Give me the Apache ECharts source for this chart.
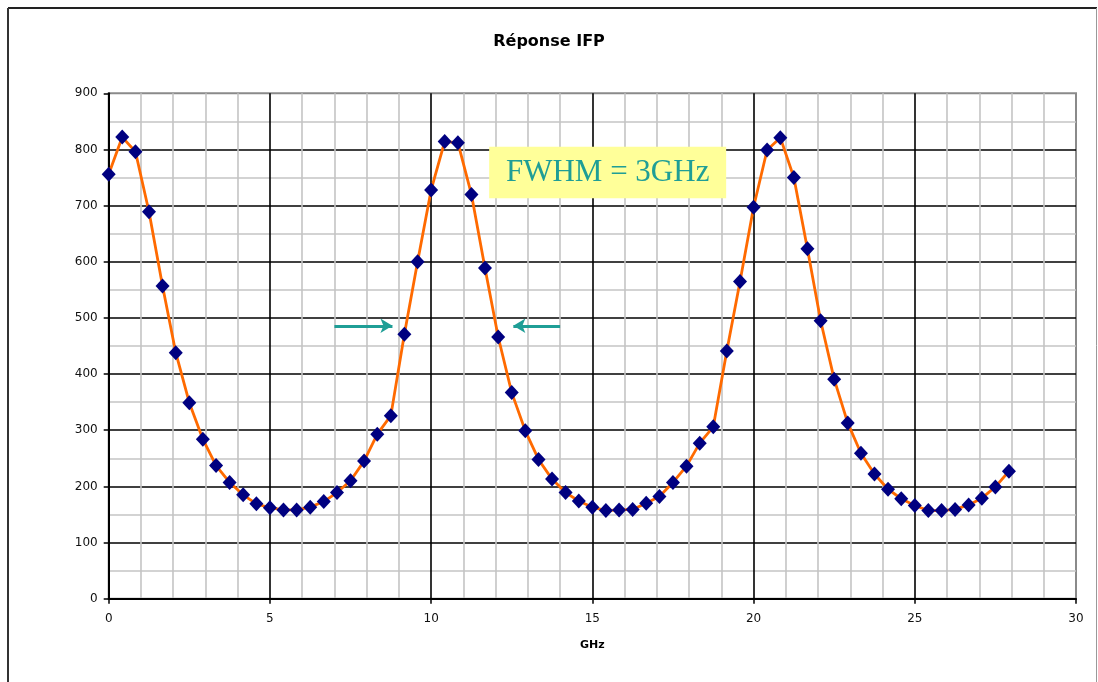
<!DOCTYPE html>
<html>
<head>
<meta charset="utf-8">
<title>Réponse IFP</title>
<script src="https://cdn.jsdelivr.net/npm/echarts@6/dist/echarts.min.js"></script>
<style>
  html, body { margin: 0; padding: 0; background: #fff; }
  #chart { width: 1098px; height: 682px; }
</style>
</head>
<body>
<div id="chart"></div>
<script>
// Frequency of each measurement (GHz)
const freqGHz = [
  0, 0.42, 0.83, 1.25, 1.67, 2.08, 2.5, 2.92, 3.33, 3.75, 4.17, 4.58,
  5, 5.42, 5.83, 6.25, 6.67, 7.08, 7.5, 7.92, 8.33, 8.75, 9.17, 9.58,
  10, 10.42, 10.83, 11.25, 11.67, 12.08, 12.5, 12.92, 13.33, 13.75, 14.17, 14.58,
  15, 15.42, 15.83, 16.25, 16.67, 17.08, 17.5, 17.92, 18.33, 18.75, 19.17, 19.58,
  20, 20.42, 20.83, 21.25, 21.67, 22.08, 22.5, 22.92, 23.33, 23.75, 24.17, 24.58,
  25, 25.42, 25.83, 26.25, 26.67, 27.08, 27.5, 27.92
];
// Interferometer response at each frequency
const response = [
  756, 822, 796, 689, 557, 438, 349, 284, 237, 207, 185, 169,
  162, 158, 158, 163, 173, 189, 210, 245, 293, 326, 471, 600,
  728, 814, 812, 720, 589, 466, 367, 299, 248, 213, 189, 174,
  163, 157, 158, 159, 170, 182, 207, 236, 277, 306, 441, 565,
  697, 799, 821, 750, 623, 495, 391, 313, 259, 222, 195, 178,
  166, 157, 157, 159, 167, 179, 199, 227
];
// Half-maximum level and the two frequencies marked by the arrows
const halfMax = 486;
const arrowLeft = [7.0, 8.8];
const arrowRight = [14.0, 12.55];
// Annotation box extent (GHz, response)
const noteBoxX = [11.8, 19.15];
const noteBoxY = [713, 805];
const noteText = 'FWHM = 3GHz';

const points = freqGHz.map((f, i) => [f, response[i]]);
const teal = '#1f9e96';

const chart = echarts.init(document.getElementById('chart'));
chart.setOption({
  animation: false,
  backgroundColor: '#ffffff',
  title: {
    text: 'Réponse IFP',
    left: 'center',
    top: 29,
    textStyle: { fontFamily: 'DejaVu Sans', fontSize: 16, fontWeight: 'bold', color: '#000' }
  },
  graphic: [
    { type: 'line', shape: { x1: 8, y1: 8, x2: 1097, y2: 8 }, style: { stroke: '#222', lineWidth: 2 } },
    { type: 'line', shape: { x1: 8, y1: 8, x2: 8, y2: 690 }, style: { stroke: '#333', lineWidth: 2 } },
    { type: 'line', shape: { x1: 1096.5, y1: 8, x2: 1096.5, y2: 690 }, style: { stroke: '#999', lineWidth: 1 } }
  ],
  grid: {
    left: 108.7, right: 22, top: 93.3, bottom: 83.3,
    show: true, borderColor: '#8a8a8a', borderWidth: 2
  },
  xAxis: {
    type: 'value', min: 0, max: 30, interval: 5,
    name: 'GHz', nameLocation: 'middle', nameGap: 41,
    nameTextStyle: { fontFamily: 'DejaVu Sans', fontSize: 11, fontWeight: 'bold', color: '#000' },
    axisLine: { show: true, onZero: false, lineStyle: { color: '#000', width: 2 } },
    axisTick: { show: true, length: 5, lineStyle: { color: '#000', width: 1.5 } },
    axisLabel: { fontFamily: 'DejaVu Sans', fontSize: 12, color: '#111', margin: 14 },
    splitLine: { show: true, showMinLine: false, showMaxLine: false, lineStyle: { color: '#000', width: 1.6 } },
    minorTick: { show: false, splitNumber: 5 },
    minorSplitLine: { show: true, lineStyle: { color: '#c4c4c4', width: 1.6 } }
  },
  yAxis: {
    type: 'value', min: 0, max: 900, interval: 100,
    axisLine: { show: true, onZero: false, lineStyle: { color: '#000', width: 2 } },
    axisTick: { show: true, length: 5, lineStyle: { color: '#000', width: 1.5 } },
    axisLabel: { fontFamily: 'DejaVu Sans', fontSize: 12, color: '#111', margin: 11 },
    splitLine: { show: true, showMinLine: false, showMaxLine: false, lineStyle: { color: '#000', width: 1.6 } },
    minorTick: { show: false, splitNumber: 2 },
    minorSplitLine: { show: true, lineStyle: { color: '#c4c4c4', width: 1.6 } }
  },
  series: [{
    type: 'line',
    data: points,
    symbol: 'diamond',
    symbolSize: [14, 15],
    itemStyle: { color: '#000080' },
    lineStyle: { color: '#ff6a00', width: 2.8 },
    markArea: {
      silent: true,
      itemStyle: { color: '#ffff99' },
      label: {
        show: true, position: 'inside',
        fontFamily: 'Liberation Serif', fontSize: 31, color: teal
      },
      data: [[
        { name: noteText, coord: [noteBoxX[0], noteBoxY[1]] },
        { coord: [noteBoxX[1], noteBoxY[0]] }
      ]]
    },
    markLine: {
      silent: true,
      symbol: ['none', 'arrow'],
      symbolSize: [11, 12],
      label: { show: false },
      lineStyle: { color: teal, width: 3, type: 'solid' },
      data: [
        [{ coord: [arrowLeft[0], halfMax] }, { coord: [arrowLeft[1], halfMax] }],
        [{ coord: [arrowRight[0], halfMax] }, { coord: [arrowRight[1], halfMax] }]
      ]
    }
  }]
});
</script>
</body>
</html>
